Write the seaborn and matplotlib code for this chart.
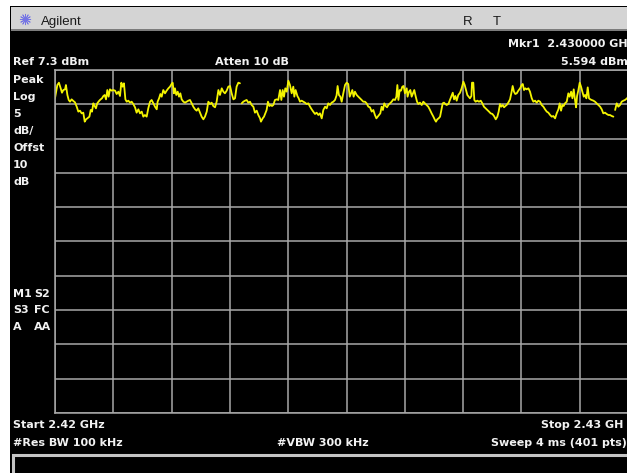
import matplotlib
matplotlib.use("Agg")
import matplotlib.pyplot as plt
from matplotlib.lines import Line2D
from matplotlib.patches import Rectangle
import numpy as np
import pandas as pd
import seaborn as sns

W, H = 627, 473

# instrument settings
start_ghz = 2.42
stop_ghz = 2.43
n_points = 401
ref_dbm = 7.3
db_per_div = 5
n_div = 10

# sweep point index (0..400) and trace level
sweep_pt = [
    0.0, 1.6, 2.7, 3.9, 4.8, 5.7, 6.9, 7.5, 8.5, 9.4, 10.3, 11.4, 12.6, 13.7, 14.9,
    16.0, 17.1, 18.3, 19.4, 20.4, 21.3, 22.2, 23.6, 24.5, 25.4, 26.3, 27.2, 28.1,
    29.0, 30.4, 31.3, 32.2, 33.2, 34.1, 35.0, 35.9, 36.8, 37.7, 38.9, 40.0, 41.2,
    42.3, 43.5, 44.6, 45.5, 46.4, 47.3, 48.3, 49.2, 50.3, 51.5, 52.6, 53.7, 54.9,
    56.0, 57.2, 58.3, 59.5, 60.6, 61.7, 62.9, 64.0, 65.2, 66.3, 67.5, 68.6, 69.8,
    70.4, 71.4, 72.3, 73.2, 74.3, 75.5, 76.6, 77.8, 78.9, 80.0, 80.7, 81.6, 82.3,
    83.2, 84.2, 85.1, 86.0, 86.9, 88.1, 89.2, 90.3, 91.5, 92.6, 93.8, 94.9, 96.1,
    97.2, 98.3, 99.5, 100.6, 101.8, 102.9, 104.1, 105.2, 106.3, 107.5, 108.6,
    109.8, 110.9, 112.1, 113.2, 114.4, 115.5, 116.6, 117.8, 118.9, 120.1, 121.2,
    122.4, 123.5, 124.6, 125.8, 126.9,
    128.1, 129.2, 130.4, 131.5, 132.6, 133.8, 134.9, 136.1, 137.2, 138.4, 139.5,
    140.7, 141.3, 142.5, 143.4, 144.3, 145.2, 146.1, 147.1, 148.0, 148.9, 149.8,
    150.9, 152.1, 153.2, 154.4, 155.3, 156.2, 157.1, 158.0, 159.0, 160.1, 161.2,
    162.4, 163.5, 164.2, 165.1, 166.3, 167.2, 168.1, 169.2, 170.4, 171.5, 172.7,
    173.8, 175.0, 176.1, 177.2, 178.4, 179.5, 180.7, 181.8, 183.0, 184.1, 185.3,
    186.4, 187.5, 188.7, 189.8, 191.0, 192.1, 193.2, 193.9, 194.8, 195.8, 196.7,
    197.8, 199.0, 200.1, 201.2, 202.2, 203.1, 204.0, 204.9, 205.8, 207.0, 208.1,
    209.3, 210.4, 211.5, 212.7, 213.8, 215.0, 216.1, 217.3, 218.4, 219.5, 220.5,
    221.4, 222.3, 223.2, 224.1, 225.0, 225.9, 226.9, 227.8, 228.7, 229.8, 231.0,
    232.1, 233.3, 234.2, 234.9, 235.6, 236.5, 237.4, 238.3, 239.2, 240.1, 241.3,
    241.9, 242.9, 243.8, 244.7, 245.6, 246.5, 247.4, 248.4, 249.3, 250.4, 251.6,
    252.7, 253.8, 255.0, 256.1, 257.3, 258.4, 259.6, 260.7, 261.4, 262.3, 263.2,
    264.2, 265.1, 266.0, 266.9, 267.8, 268.7, 269.9, 271.0, 271.9, 272.9, 273.8,
    274.7, 275.6, 276.7, 277.9, 279.0, 280.2, 281.1, 282.0, 282.9, 283.8, 284.7,
    285.7, 286.1, 287.0, 287.7, 288.6, 289.8, 290.9, 292.1, 293.2, 294.3, 295.5,
    296.6, 297.8, 298.9, 300.1, 301.2, 302.4, 303.5, 304.4, 305.3, 306.2, 307.2,
    308.1, 309.0, 309.9, 311.0, 312.2, 313.3, 314.0, 314.9, 315.8, 316.8, 317.9,
    319.1, 320.2, 320.9, 321.8, 322.7, 323.6, 324.8, 325.9, 327.1, 328.2, 329.4,
    330.5, 331.6, 332.8, 333.9, 335.1, 336.2, 337.4, 338.5, 339.7, 340.8, 341.9,
    343.1, 344.2, 345.4, 346.3, 347.2, 348.1, 349.0, 349.9, 351.1, 352.2, 353.1,
    354.1, 355.0, 355.9, 356.8, 357.5, 358.2, 359.1, 360.0, 360.9, 361.8, 362.8,
    363.7, 364.6, 365.5, 366.4, 367.3, 368.2, 369.4, 370.5, 371.7, 372.8, 374.0,
    375.1, 376.2, 377.4, 378.5, 379.7, 380.8, 382.0, 383.1,
    384.3, 385.4, 386.5, 387.7, 388.8, 390.0, 391.1, 392.5, 400.0,
]
level_dbm = [
    3.20, 5.11, 5.45, 4.63, 3.99, 4.38, 4.48, 5.11, 3.66, 2.93, 2.68, 3.02, 2.78, 2.59, 1.95,
    1.23, 1.37, 0.98, 1.08, -0.23, 0.11, 0.25, 0.50, 1.47, 1.23, 2.44, 2.05, 1.71,
    2.44, 2.83, 3.02, 3.17, 3.51, 3.66, 3.02, 4.38, 3.41, 4.48, 4.29, 4.38, 4.29,
    3.80, 4.14, 3.51, 5.45, 4.87, 5.36, 3.02, 2.68, 2.83, 2.54, 2.68, 2.34, 1.86,
    1.08, 1.57, 0.98, 1.23, 0.50, 0.74, 0.50, 1.71, 2.68, 2.93, 2.44, 1.95, 1.57,
    2.68, 3.17, 3.80, 3.41, 4.38, 3.90, 4.29, 4.63, 4.87, 5.26, 5.45, 3.90, 4.63,
    3.66, 4.14, 3.41, 3.90, 3.02, 2.68, 2.54, 2.68, 2.83, 2.93, 2.44, 1.95, 1.57,
    1.37, 1.71, 1.08, 0.50, 0.11, 0.50, 1.23, 2.68, 2.34, 2.54, 2.05,
    1.86, 2.68, 4.38, 3.66, 4.63, 4.14, 3.90, 4.29, 4.87, 4.97, 3.90,
    3.02, 3.17, 4.87, 5.45, 5.36,
    2.44, 2.68, 2.83, 2.93, 2.54, 2.68, 2.20, 1.95, 1.08, 1.37, 0.74,
    0.25, -0.23, 0.25, 0.50, 0.98, 1.47, 2.68, 2.05, 2.20, 2.05, 2.20,
    2.93, 3.02, 2.93, 4.38, 2.93, 4.38, 3.41, 4.63, 4.14, 5.74, 5.11,
    3.90, 4.87, 3.41, 4.38, 3.51, 3.17, 2.68, 2.83, 2.68, 2.54, 2.34,
    2.44, 1.95, 1.57, 1.23, 0.89, 1.08, 0.74, 0.98, 0.25, 1.47, 1.95,
    1.71, 2.44, 2.20, 2.54, 2.68, 2.93, 3.60, 4.97, 3.66, 3.41, 2.68,
    3.90, 5.11, 5.45, 5.26, 3.41, 3.90, 4.38, 3.41, 4.14, 3.66, 3.41,
    3.17, 2.93, 2.68, 2.68, 2.44, 1.95, 1.86, 1.23, 1.47, 0.74, 0.25,
    0.50, 0.74, 0.98, 1.95, 1.47, 2.44, 2.05, 1.86, 2.20, 2.44, 2.68,
    3.02, 2.93, 3.41, 5.11, 2.93, 4.38, 4.29, 4.87, 4.97, 3.90, 4.63,
    3.41, 4.14, 4.38, 3.41, 3.90, 4.38, 3.51, 2.68, 2.34, 2.54, 2.20,
    2.68, 2.44, 2.20, 1.95, 1.47, 0.98, 0.50, 0.01, -0.23, 0.11, 0.25,
    0.50, 1.47, 2.44, 2.54, 2.34, 2.20, 2.34, 2.93, 3.41, 3.99, 3.02,
    3.51, 2.83, 3.66, 3.99, 4.63, 5.60, 5.11, 4.38, 3.66, 3.41, 3.17,
    3.51, 5.45, 5.45, 2.93, 2.68, 2.83, 2.68, 2.83, 2.44, 1.95, 1.71,
    1.47, 1.23, 0.98, 0.89, 0.59, 0.11, 0.50, 1.23, 2.34, 1.95, 2.20,
    1.86, 2.05, 2.20, 2.54, 3.02, 4.14, 4.97, 4.14, 3.80, 3.90, 4.29,
    4.63, 5.11, 5.26, 4.38, 4.63, 4.48, 4.63, 4.14, 3.17, 2.68, 2.83,
    2.54, 2.83, 2.68, 2.20, 1.95, 1.57, 1.23, 1.08, 0.74, 0.50, 0.59,
    0.25, 0.98, 1.57, 2.44, 1.37, 2.20, 2.05, 2.44, 2.68, 3.90, 3.41,
    4.14, 3.17, 4.48, 2.93, 1.86, 3.51, 4.38, 5.45, 4.87, 4.14, 3.41,
    3.66, 3.17, 4.77, 3.17, 3.02, 2.93, 2.83, 2.68, 2.44, 2.20, 1.95,
    1.57, 0.98, 1.08, 0.89, 0.74, 0.74, 0.59, 0.50,
    1.47, 2.44, 1.95, 2.20, 2.68, 2.83, 2.93, 3.17, 5.59,
]
# the trace is broken where the live sweep overwrites the previous one
gap_after = [126.9, 383.1]

left_labels = ["Peak", "Log", "5", "dB/", "Offst", "10", "dB"]
status_rows = [("M1", "S2"), ("S3", "FC"), ("A", "AA")]

df = pd.DataFrame({"sweep_pt": sweep_pt, "level_dbm": level_dbm})
df["freq_ghz"] = start_ghz + df["sweep_pt"] / (n_points - 1) * (stop_ghz - start_ghz)
df["segment"] = np.digitize(df["sweep_pt"], gap_after, right=True)

sns.set_theme(style="dark", rc={"axes.facecolor": "black", "figure.facecolor": "black"})
plt.rcParams["font.family"] = ["DejaVu Sans"]

fig = plt.figure(figsize=(W / 100, H / 100), dpi=100, facecolor="black")


def fx(x):
    return x / W


def fy(y):
    return 1 - y / H


def px_rect(x0, y0, x1, y1, **kw):
    fig.add_artist(Rectangle((fx(x0), fy(y1)), (x1 - x0) / W, (y1 - y0) / H,
                             transform=fig.transFigure, **kw))


def label(x, y, s, **kw):
    opts = dict(color="#f2f2f2", fontsize=8, fontweight="bold", ha="left", va="baseline")
    opts.update(kw)
    fig.text(fx(x), fy(y), s, **opts)


# screen frame and title bar
px_rect(0, 0, W, 6, facecolor="white", edgecolor="none")
px_rect(0, 0, 10, H, facecolor="white", edgecolor="none")
px_rect(11, 7, W + 5, 30, facecolor="#d4d4d4", edgecolor="none")
px_rect(11, 29.5, W + 5, 31, facecolor="#7c7c7c", edgecolor="none")
fig.add_artist(Line2D([fx(25)], [fy(19.5)], transform=fig.transFigure, marker=(12, 2, 0),
                      markersize=8, markeredgewidth=0.6, color="#7474e4"))
fig.text(fx(41), fy(25), "Agilent", fontsize=9.5, color="#1a1a1a",
         family=["Liberation Sans", "DejaVu Sans"], va="baseline")
fig.text(fx(462.5), fy(25), "R", fontsize=9.5, color="#1a1a1a",
         family=["Liberation Sans", "DejaVu Sans"], va="baseline")
fig.text(fx(493), fy(25), "T", fontsize=9.5, color="#1a1a1a",
         family=["Liberation Sans", "DejaVu Sans"], va="baseline")

# graticule: 10 x 10 divisions, right edge runs off the screen
ax = fig.add_axes([fx(55), fy(413), 583 / W, 343 / H])
sns.lineplot(data=df, x="freq_ghz", y="level_dbm", units="segment", estimator=None,
             color="#f4f400", linewidth=1.3, legend=False, ax=ax)
ax.set_xlim(start_ghz, stop_ghz)
ax.set_ylim(ref_dbm - n_div * db_per_div, ref_dbm)
ax.set_xticks(np.linspace(start_ghz, stop_ghz, n_div + 1))
ax.set_yticks(np.linspace(ref_dbm - n_div * db_per_div, ref_dbm, n_div + 1))
ax.tick_params(length=0, labelbottom=False, labelleft=False)
ax.grid(True, color="#a8a8a8", linewidth=1.1)
ax.set_axisbelow(True)
ax.set_xlabel("")
ax.set_ylabel("")
for sp in ax.spines.values():
    sp.set_visible(True)
    sp.set_color("#a8a8a8")
    sp.set_linewidth(1.1)

# annotations around the graticule (the screen cuts the right-hand ones short)
label(13, 65, "Ref 7.3 dBm")
label(215, 65, "Atten 10 dB")
label(508, 47, "Mkr1  2.430000 GH")
label(561, 65, "5.594 dBm")
for i, s in enumerate(left_labels):
    label(13, 82.7 + i * 17.1, s)
for i, (a, b) in enumerate(status_rows):
    label(13, 297.3 + i * 16.1, a)
    label(34, 297.3 + i * 16.1, b)
label(13, 428.3, "Start 2.42 GHz")
label(541, 428.3, "Stop 2.43 GH")
label(13, 446, "#Res BW 100 kHz")
label(277, 446, "#VBW 300 kHz")
label(491, 446, "Sweep 4 ms (401 pts)")

# message box at the bottom
px_rect(13, 454.5, W + 20, H + 20, facecolor="black", edgecolor="#c4c4c4", linewidth=2.2)

fig.savefig("out.png", dpi=100, facecolor=fig.get_facecolor())
